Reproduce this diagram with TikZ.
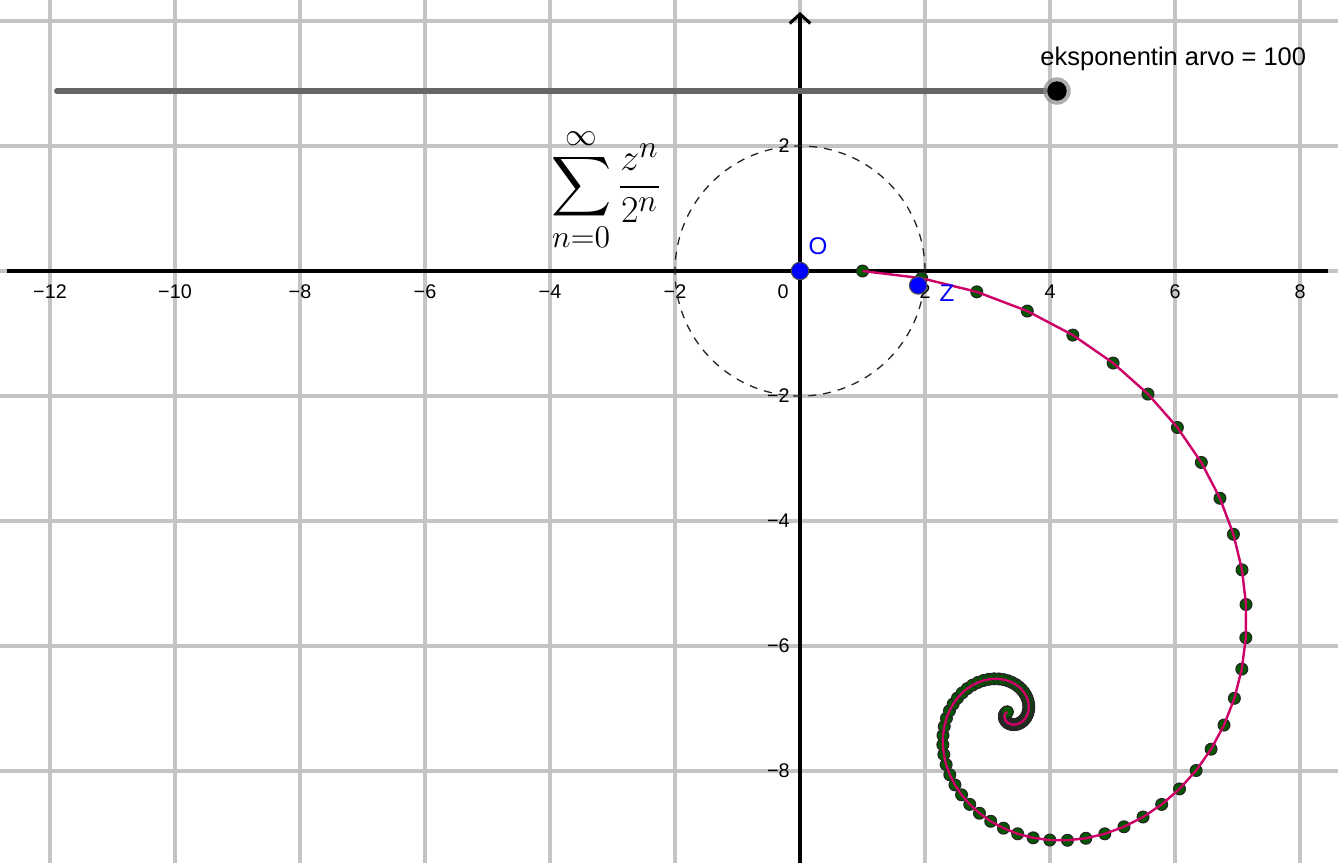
\documentclass[tikz,border=0pt]{standalone}
\usepackage[no-math]{fontspec}
\setmainfont{Liberation Sans}
\usepackage{amsmath,amssymb}
\usepackage{xcolor}
\usetikzlibrary{arrows.meta, positioning, calc}
\definecolor{gridgray}{RGB}{196,196,196}
\definecolor{pointblue}{RGB}{0,0,255}
\definecolor{seqgreen}{RGB}{0,88,0}
\definecolor{curvepink}{RGB}{204,0,102}
\definecolor{slidergray}{RGB}{102,102,102}

\begin{document}
\begin{tikzpicture}[
    gridline/.style={draw=gridgray, line width=1.4pt},
    axis/.style={draw=black, line width=1.4pt},
    ticklabel/.style={font=\fontsize{9}{10}\selectfont, inner sep=0pt},
    unitcircle/.style={draw=black!85, line width=0.6pt, dash pattern=on 3.6pt off 3.2pt},
    sliderline/.style={draw=slidergray, line width=2.7pt, line cap=round},
    knobhalo/.style={circle, fill=black!45, opacity=0.7, inner sep=0pt, minimum size=4.4mm},
    knob/.style={circle, fill=black, inner sep=0pt, minimum size=3.1mm},
    seqdot/.style={circle, fill=seqgreen, draw=black!85, line width=0.5pt, inner sep=0pt, minimum size=1.9mm},
    seqcurve/.style={draw=curvepink, line width=1.1pt, line join=round},
    pointdot/.style={circle, fill=pointblue, draw=black!70, line width=0.5pt, inner sep=0pt, minimum size=2.8mm},
    pointlabel/.style={text=pointblue, font=\fontsize{11}{13}\selectfont, inner sep=0pt}
]
\useasboundingbox (-12.8,-9.472) rectangle (8.608,4.336);

% Grid
\foreach \x in {-12,-10,...,8}
    \draw[gridline] (\x,-9.472) -- (\x,4.336);
\foreach \y in {-8,-6,...,4}
    \draw[gridline] (-12.8,\y) -- (8.608,\y);

% Axes
\draw[axis] (-12.69,0) -- (8.45,0);
\draw[axis, -{Straight Barb[length=1.5mm, width=3.3mm]}] (0,-9.472) -- (0,4.144);

% Tick labels
\foreach \x in {2,4,...,12}
    \node[ticklabel] (xneg\x) at (-\x,-0.336) {−\x};
\foreach \x in {2,4,6,8}
    \node[ticklabel] (xpos\x) at (\x,-0.336) {\x};
\node[ticklabel] (zero) at (-0.27,-0.33) {0};
\node[ticklabel, anchor=east] (ypos2) at (-0.16,2) {2};
\foreach \y in {2,4,6,8}
    \node[ticklabel, anchor=east] (yneg\y) at (-0.16,-\y) {−\y};

% Circle |z| = 2
\draw[unitcircle] (0,0) circle (2);

% Formula
\node[font=\fontsize{19}{21}\selectfont, inner sep=0pt] (sumformula) at (-3.1,1.3)
    {$\displaystyle\sum_{n=0}^{\infty}\frac{z^n}{2^n}$};

% Slider
\coordinate (sliderstart) at (-11.888,2.88);
\coordinate (sliderend) at (4.112,2.88);
\draw[sliderline] (sliderstart) -- (sliderend);
\node[knobhalo] (halo) at (sliderend) {};
\node[knob] (knob) at (sliderend) {};
\node[anchor=base west, font=\fontsize{11.6}{13}\selectfont, inner sep=0pt] (sliderlabel) at (3.84,3.296)
    {eksponentin arvo = 100};

% Partial sums S_n = (1 - w^(n+1))/(1 - w), w = z/2
\pgfmathsetmacro\wr{0.9525}
\pgfmathsetmacro\wang{6.95}
\pgfmathsetmacro\da{1-\wr*cos(\wang)}
\pgfmathsetmacro\db{\wr*sin(\wang)}
\pgfmathsetmacro\Lre{\da/(\da*\da+\db*\db)}
\pgfmathsetmacro\Lim{-\db/(\da*\da+\db*\db)}
\foreach \n in {0,...,100}{
    \pgfmathsetmacro\rk{\wr^(\n+1)}
    \pgfmathsetmacro\ak{\wang*(\n+1)}
    \pgfmathsetmacro\pa{\rk*cos(\ak)}
    \pgfmathsetmacro\pb{-\rk*sin(\ak)}
    \pgfmathsetmacro\sx{\Lre-(\Lre*\pa-\Lim*\pb)}
    \pgfmathsetmacro\sy{\Lim-(\Lre*\pb+\Lim*\pa)}
    \node[seqdot] (s\n) at (\sx,\sy) {};
}
\draw[seqcurve] (s0.center) \foreach \n in {1,...,100}{ -- (s\n.center)};

% Points
\node[pointdot] (O) at (0,0) {};
\node[pointdot] (Z) at (1.891,-0.2305) {};
\node[pointlabel] (Olabel) at ($(O)+(0.29,0.4)$) {O};
\node[pointlabel] (Zlabel) at ($(Z)+(0.46,-0.13)$) {Z};

\end{tikzpicture}
\end{document}
